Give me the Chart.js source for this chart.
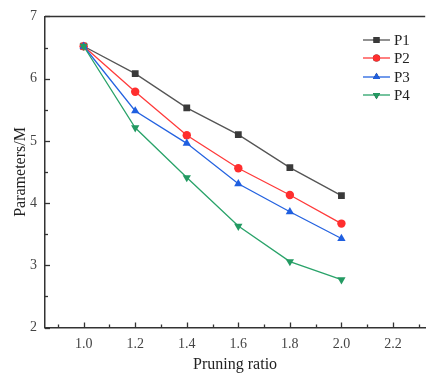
<!DOCTYPE html>
<html>
<head>
<meta charset="utf-8">
<script src="https://cdn.jsdelivr.net/npm/chart.js@4.4.1/dist/chart.umd.min.js"></script>
<style>
html,body{margin:0;padding:0;background:#fff;overflow:hidden;}
#wrap{width:430px;height:374px;position:relative;}
</style>
</head>
<body>
<div id="wrap"><canvas id="c" width="430" height="374"></canvas></div>
<script>
// ---- data ----
const ratios = [1.0, 1.2, 1.4, 1.6, 1.8, 2.0];
const p1 = [6.52, 6.08, 5.53, 5.10, 4.57, 4.12];
const p2 = [6.52, 5.79, 5.09, 4.56, 4.13, 3.67];
const p3 = [6.52, 5.48, 4.96, 4.31, 3.86, 3.43];
const p4 = [6.52, 5.21, 4.41, 3.63, 3.06, 2.77];
const seriesNames = ['P1', 'P2', 'P3', 'P4'];
const xTickValues = [1.0, 1.2, 1.4, 1.6, 1.8, 2.0, 2.2];
const xMinorValues = [0.9, 1.1, 1.3, 1.5, 1.7, 1.9, 2.1, 2.3];
const yTickValues = [2, 3, 4, 5, 6, 7];
const yMinorValues = [2.5, 3.5, 4.5, 5.5, 6.5];
const xTitle = 'Pruning ratio';
const yTitle = 'Parameters/M';

// ---- styles ----
const lineColors = ['#555555', '#ff3b3b', '#2563e0', '#2aa36a'];
const markColors = ['#3a3a3a', '#ff2e2e', '#1f5fe0', '#239a62'];
const shapes = ['rect', 'circle', 'triangle', 'triangle'];
const rotations = [0, 0, 0, 180];
const radii = [4.8, 4.2, 4.8, 4.8];
const serif = "'Liberation Serif','DejaVu Serif',serif";
const axisColor = '#333333';

const allSeries = [p1, p2, p3, p4];
const datasets = allSeries.map((vals, i) => ({
  label: seriesNames[i],
  data: ratios.map((x, j) => ({x: x, y: vals[j]})),
  borderColor: lineColors[i],
  backgroundColor: markColors[i],
  pointBackgroundColor: markColors[i],
  pointBorderColor: markColors[i],
  pointBorderWidth: 0,
  pointStyle: shapes[i],
  pointRotation: rotations[i],
  pointRadius: radii[i],
  borderWidth: 1.3,
  tension: 0,
  order: 3 - i
}));

const decor = {
  id: 'decor',
  afterDraw(chart) {
    const ctx = chart.ctx;
    const xs = chart.scales.x, ys = chart.scales.y;
    const a = chart.chartArea;
    ctx.save();
    ctx.strokeStyle = axisColor;
    ctx.lineWidth = 1.5;
    // top border
    ctx.beginPath();
    ctx.moveTo(a.left, a.top);
    ctx.lineTo(a.right, a.top);
    ctx.stroke();
    // inward ticks
    ctx.lineWidth = 1.3;
    const drawX = (vals, len) => vals.forEach(v => {
      const px = Math.round(xs.getPixelForValue(v)) + 0.5;
      ctx.beginPath(); ctx.moveTo(px, a.bottom); ctx.lineTo(px, a.bottom - len); ctx.stroke();
    });
    const drawY = (vals, len) => vals.forEach(v => {
      const py = Math.round(ys.getPixelForValue(v)) + 0.5;
      ctx.beginPath(); ctx.moveTo(a.left, py); ctx.lineTo(a.left + len, py); ctx.stroke();
    });
    drawX(xTickValues, 5); drawX(xMinorValues, 3);
    drawY(yTickValues, 5); drawY(yMinorValues, 3);
    // legend
    const lx0 = 363, lx1 = 390, tx = 394;
    const rowY = [40, 58, 77, 95];
    ctx.font = '15px ' + serif;
    ctx.textBaseline = 'middle';
    ctx.textAlign = 'left';
    seriesNames.forEach((name, i) => {
      const y = rowY[i];
      ctx.strokeStyle = lineColors[i];
      ctx.lineWidth = 1.3;
      ctx.beginPath(); ctx.moveTo(lx0, y); ctx.lineTo(lx1, y); ctx.stroke();
      Chart.helpers.drawPoint(ctx, {
        pointStyle: shapes[i], rotation: rotations[i], radius: radii[i] - 0.6, borderWidth: 0
      }, (lx0 + lx1) / 2, y);
      ctx.fillStyle = markColors[i];
      ctx.fill();
      ctx.fillStyle = '#222';
      ctx.fillText(name, tx, y + 1);
    });
    ctx.restore();
  }
};

new Chart(document.getElementById('c'), {
  type: 'line',
  data: {datasets: datasets},
  plugins: [decor],
  options: {
    responsive: false,
    animation: false,
    devicePixelRatio: 1,
    layout: {padding: {top: 15, right: 0, left: 0, bottom: 0}},
    plugins: {legend: {display: false}, tooltip: {enabled: false}},
    scales: {
      x: {
        type: 'linear',
        min: 0.85, max: 2.325,
        afterBuildTicks: s => { s.ticks = xTickValues.map(v => ({value: v})); },
        afterFit: s => { s.height = 46.5; },
        grid: {display: true, drawOnChartArea: false, drawTicks: false},
        border: {display: true, color: axisColor, width: 1.5},
        ticks: {
          color: '#444', padding: 8, maxRotation: 0, autoSkip: false,
          font: {family: serif, size: 14},
          callback: v => Number(v).toFixed(1)
        },
        title: {display: true, text: xTitle, color: '#222', font: {family: serif, size: 16}, padding: {top: 2, bottom: 0}}
      },
      y: {
        type: 'linear',
        min: 2, max: 7,
        afterBuildTicks: s => { s.ticks = yTickValues.map(v => ({value: v})); },
        afterFit: s => { s.width = 45; },
        grid: {display: true, drawOnChartArea: false, drawTicks: false},
        border: {display: true, color: axisColor, width: 1.5},
        ticks: {
          color: '#444', padding: 8,
          font: {family: serif, size: 14},
          callback: v => String(v)
        },
        title: {display: true, text: yTitle, color: '#222', font: {family: serif, size: 16}, padding: {top: 11, bottom: 0}}
      }
    }
  }
});
</script>
</body>
</html>
